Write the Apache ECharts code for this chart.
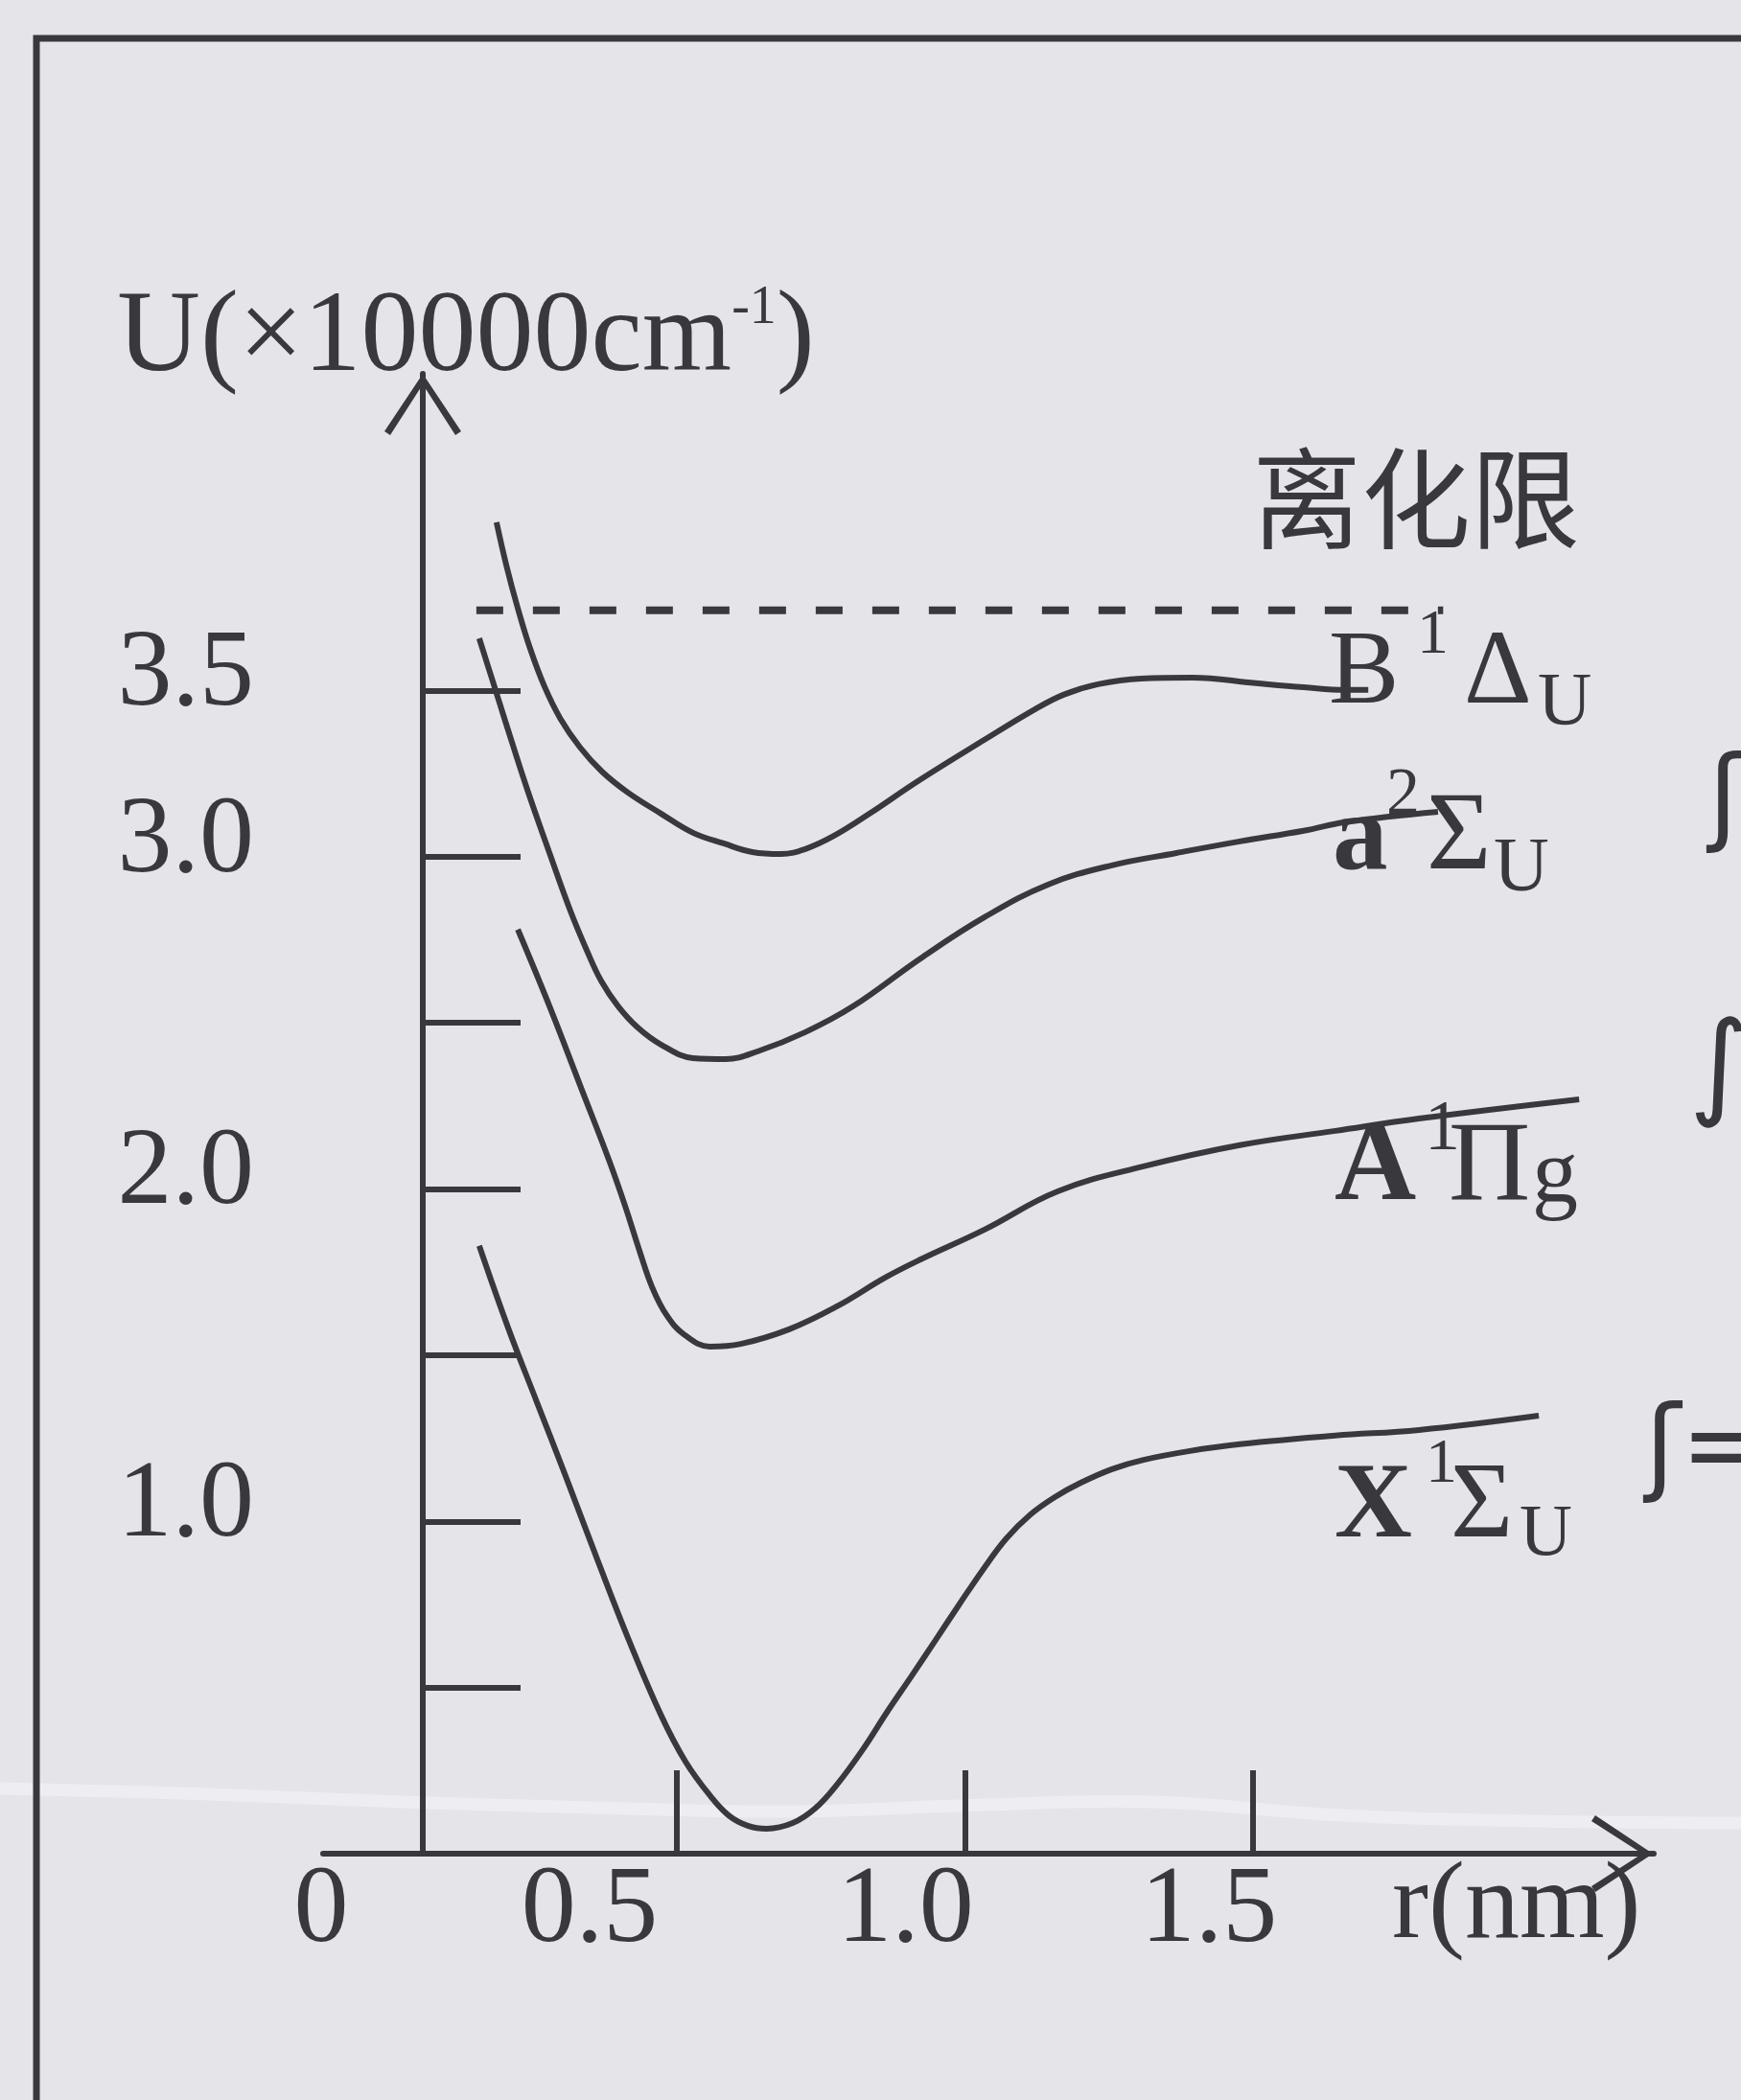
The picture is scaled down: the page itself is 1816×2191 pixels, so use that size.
<!DOCTYPE html>
<html>
<head>
<meta charset="utf-8">
<title>势能曲线</title>
<script src="https://cdn.jsdelivr.net/npm/echarts@6/dist/echarts.min.js"></script>
<style>
  html, body { margin: 0; padding: 0; background: #e5e4e9; }
  #chart { width: 1816px; height: 2191px; }
</style>
</head>
<body>
<div id="chart"></div>
<script>
// r (nm) 与 U (×10000 cm^-1)
const ionLimit = [[0.152, 3.741], [1.830, 3.741]]
const bDeltaU = [
  [0.187, 4.006], [0.204, 3.877], [0.224, 3.747], [0.245, 3.628], [0.270, 3.513],
  [0.298, 3.415], [0.332, 3.329], [0.370, 3.256], [0.415, 3.193], [0.473, 3.129],
  [0.528, 3.072], [0.581, 3.040], [0.631, 3.014], [0.681, 3.008], [0.723, 3.023],
  [0.773, 3.063], [0.834, 3.129], [0.919, 3.228], [1.034, 3.352], [1.122, 3.444],
  [1.172, 3.488], [1.231, 3.519], [1.306, 3.536], [1.394, 3.539], [1.505, 3.522],
  [1.588, 3.510], [1.660, 3.502], [1.700, 3.502]
]
const aSigmaU = [
  [0.157, 3.657], [0.179, 3.536], [0.202, 3.409], [0.240, 3.204], [0.279, 3.011],
  [0.315, 2.838], [0.344, 2.717], [0.369, 2.625], [0.398, 2.550], [0.432, 2.486],
  [0.473, 2.434], [0.528, 2.394], [0.585, 2.391], [0.640, 2.414], [0.723, 2.472],
  [0.806, 2.550], [0.923, 2.694], [1.034, 2.818], [1.144, 2.916], [1.255, 2.974],
  [1.367, 3.011], [1.477, 3.046], [1.588, 3.078], [1.660, 3.104], [1.821, 3.135]
]
const aPiG = [
  [0.224, 2.781], [0.279, 2.550], [0.335, 2.299], [0.382, 2.088], [0.410, 1.950],
  [0.435, 1.815], [0.457, 1.705], [0.482, 1.621], [0.512, 1.563], [0.557, 1.526],
  [0.611, 1.534], [0.695, 1.578], [0.778, 1.647], [0.861, 1.733], [0.923, 1.788],
  [1.034, 1.878], [1.161, 1.993], [1.310, 2.068], [1.477, 2.132], [1.643, 2.175],
  [1.788, 2.212], [2.066, 2.270]
]
const xSigmaU = [
  [0.157, 1.829], [0.207, 1.583], [0.257, 1.359], [0.307, 1.136], [0.362, 0.885],
  [0.418, 0.637], [0.473, 0.415], [0.515, 0.277], [0.557, 0.176], [0.590, 0.115],
  [0.623, 0.084], [0.656, 0.075], [0.701, 0.092], [0.740, 0.136], [0.778, 0.208],
  [0.823, 0.314], [0.864, 0.424], [0.906, 0.531], [0.948, 0.640], [0.989, 0.747],
  [1.031, 0.854], [1.072, 0.949], [1.114, 1.021], [1.156, 1.073], [1.201, 1.116],
  [1.255, 1.157], [1.310, 1.185], [1.388, 1.211], [1.477, 1.232], [1.643, 1.258],
  [1.788, 1.275], [1.996, 1.318]
]
const xTickValues = [0.5, 1, 1.5]
const xLabelValues = [0, 0.5, 1, 1.5]
const yTickValues = [0.5, 1, 1.5, 2, 2.5, 3, 3.5]
const yLabelValues = [1, 2, 3, 3.5]

const ink = '#38383d'
const serif = "'Liberation Serif', 'Times New Roman', serif"
const cjk = "'Noto Sans CJK SC', sans-serif"
// 空心箭头（折线形）
const chevron = 'path://M40,0 L80,60 L74,64 L40,11 L6,64 L0,60 Z'

// 原图刻度数字并不正对刻度线，逐个往左挪
const xLabelPad = [141, 182, 124, 92]
const xRich = {}
xLabelPad.forEach(function (p, i) {
  xRich['l' + i] = { fontFamily: serif, fontSize: 114, lineHeight: 114, color: ink, padding: [0, p, 0, 0] }
})

function txt (x, y, text, size, weight, family) {
  return {
    type: 'text',
    x: x,
    y: y,
    silent: true,
    style: {
      text: text,
      fill: ink,
      font: (weight || 'normal') + ' ' + size + 'px ' + (family || serif),
      textAlign: 'left',
      textVerticalAlign: 'middle',
      align: 'left',
      verticalAlign: 'middle'
    }
  }
}

function curve (name, data) {
  return {
    name: name,
    type: 'line',
    data: data,
    showSymbol: false,
    smooth: 0.4,
    silent: true,
    lineStyle: { color: ink, width: 6 }
  }
}

const myChart = echarts.init(document.getElementById('chart'))
const option = {
  backgroundColor: '#e5e4e9',
  animation: false,
  grid: {
    left: 337,
    top: 390,
    width: 1388,
    height: 1544,
    outerBoundsMode: 'none',
    containLabel: false
  },
  xAxis: {
    type: 'value',
    min: -0.114,
    max: 2.1955,
    name: '{n|r(nm)}',
    nameLocation: 'end',
    nameGap: -273,
    nameMoveOverlap: false,
    nameTextStyle: {
      rich: {
        n: { fontFamily: serif, fontSize: 114, lineHeight: 114, color: ink, padding: [115, 0, 0, 0] }
      }
    },
    splitLine: { show: false },
    axisLine: {
      onZero: false,
      symbol: ['none', chevron],
      symbolSize: [80, 66],
      symbolOffset: [0, -33],
      lineStyle: { color: ink, width: 6 }
    },
    axisTick: {
      inside: true,
      length: 87,
      customValues: xTickValues,
      lineStyle: { color: ink, width: 6 }
    },
    axisLabel: {
      customValues: xLabelValues,
      margin: 4,
      align: 'center',
      formatter: function (v) {
        const i = xLabelValues.indexOf(v)
        return '{l' + i + '|' + (v === 0 ? '0' : v.toFixed(1)) + '}'
      },
      rich: xRich
    }
  },
  yAxis: {
    type: 'value',
    min: 0,
    max: 4.453,
    offset: -104,
    name: '{m|U(×10000cm}{s|-1}{m|)}',
    nameLocation: 'end',
    nameGap: -24,
    nameMoveOverlap: false,
    nameTextStyle: {
      padding: [0, 0, 0, 90],
      rich: {
        m: { fontFamily: serif, fontSize: 120, lineHeight: 120, color: ink },
        s: { fontFamily: serif, fontSize: 56, lineHeight: 44, verticalAlign: 'top', color: ink }
      }
    },
    splitLine: { show: false },
    axisLine: {
      onZero: false,
      symbol: ['none', chevron],
      symbolSize: [80, 64],
      symbolOffset: [0, -32],
      lineStyle: { color: ink, width: 6 }
    },
    axisTick: {
      inside: true,
      length: 102,
      customValues: yTickValues,
      lineStyle: { color: ink, width: 6 }
    },
    axisLabel: {
      customValues: yLabelValues,
      margin: 176,
      formatter: function (v) { return '{v|' + v.toFixed(1) + '}' },
      rich: {
        v: { fontFamily: serif, fontSize: 114, lineHeight: 114, color: ink, padding: [0, 0, 30, 0] }
      }
    }
  },
  graphic: [
    // 扫描纸上的折痕
    {
      type: 'polyline',
      z: -10,
      silent: true,
      shape: { points: [[0, 1866], [220, 1872], [420, 1880], [620, 1886], [820, 1890], [1000, 1884], [1200, 1880], [1400, 1894], [1600, 1900], [1816, 1902]], smooth: 0.4 },
      style: { stroke: 'rgba(250,250,252,0.42)', lineWidth: 13, fill: null }
    },
    // 外框
    {
      type: 'polyline',
      silent: true,
      shape: { points: [[38, 2200], [38, 40], [1830, 40]] },
      style: { stroke: ink, lineWidth: 7, fill: null }
    },
    txt(1306, 520, '离化限', 114, 'normal', cjk),
    txt(1386, 704, 'B', 110),
    txt(1478, 664, '1', 66),
    txt(1527, 704, 'Δ', 110),
    txt(1604, 735, 'U', 78),
    txt(1390, 876, 'a', 115, 'bold'),
    txt(1446, 831, '2', 70),
    txt(1488, 876, 'Σ', 116),
    txt(1558, 908, 'U', 80),
    txt(1392, 1221, 'A', 118, 'bold'),
    txt(1486, 1180, '1', 74),
    txt(1511, 1221, 'Π', 118),
    txt(1598, 1229, 'g', 96),
    txt(1392, 1574, 'X', 112, 'bold'),
    txt(1487, 1529, '1', 66),
    txt(1513, 1574, 'Σ', 112),
    txt(1585, 1602, 'U', 76),
    // 右侧手写痕迹
    txt(1782, 838, 'ʃ', 110, 'normal', "'DejaVu Sans'"),
    txt(1762, 1120, '∫', 120, 'normal', "'DejaVu Sans'"),
    txt(1716, 1516, 'ʃ=', 110, 'normal', "'DejaVu Sans'")
  ],
  series: [
    {
      name: '离化限',
      type: 'line',
      data: ionLimit,
      showSymbol: false,
      silent: true,
      lineStyle: { color: ink, width: 8, type: [28, 31], cap: 'butt' }
    },
    curve('B1Δu', bDeltaU),
    curve('a2Σu', aSigmaU),
    curve('A1Πg', aPiG),
    curve('X1Σu', xSigmaU)
  ]
}
myChart.setOption(option)
window.addEventListener('resize', function () {
  myChart.resize()
})
</script>
</body>
</html>
